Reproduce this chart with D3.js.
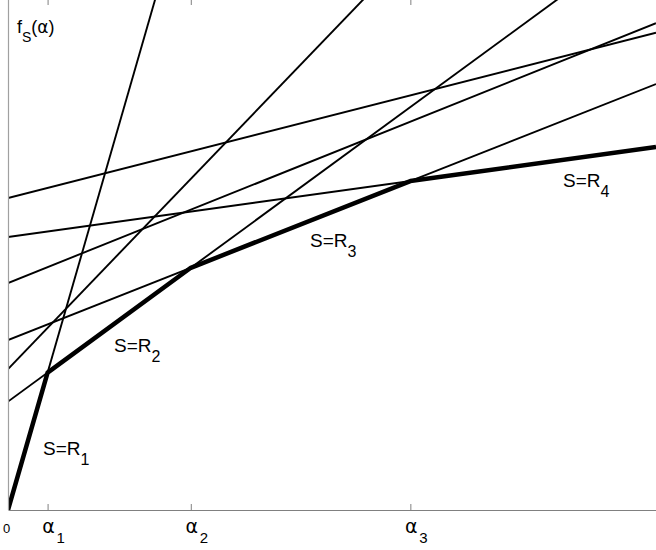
<!DOCTYPE html>
<html>
<head>
<meta charset="utf-8">
<script src="https://cdn.jsdelivr.net/npm/d3@7"></script>
<style>
  body { margin: 0; background: #fff; }
  text { font-family: "Liberation Sans", Arial, Helvetica, sans-serif; fill: #000; }
  .greek { font-family: "DejaVu Sans", sans-serif; }
</style>
</head>
<body>
<svg id="chart"></svg>
<script>
// each line f = intercept + slope * alpha
const intercepts = [0, 2.71, 4.25, 6.825, 7.8, 5.675, 3.525];
const slopes = [3.47, 0.732, 0.395, 0.139, 0.255, 0.401, 1.04];
// lines that make up the lower envelope, in order (R1..R4)
const envelope = [0, 1, 2, 3];
const regionNames = ["1", "2", "3", "4"];
const xMax = 16.2;
const yMax = 12.75;

// label anchors in data units
const labelPos = [[0.875, 1.375], [2.65, 3.95], [7.55, 6.575], [13.875, 8.075]];

const width = 656, height = 550;
const margin = {top: 0, right: 0, bottom: 40, left: 8};

const svg = d3.select("#chart").attr("width", width).attr("height", height);

const x = d3.scaleLinear().domain([0, xMax]).range([margin.left, width - margin.right]);
const y = d3.scaleLinear().domain([0, yMax]).range([height - margin.bottom, margin.top]);

const f = (i, a) => intercepts[i] + slopes[i] * a;

// breakpoints alpha_k where consecutive envelope lines cross
const alphas = d3.range(1, envelope.length).map(k => {
    const i = envelope[k - 1], j = envelope[k];
    return (intercepts[j] - intercepts[i]) / (slopes[i] - slopes[j]);
});

svg.append("clipPath").attr("id", "plot")
  .append("rect")
    .attr("x", x(0)).attr("y", -10)
    .attr("width", x(xMax) - x(0)).attr("height", y(0) + 10);

const plot = svg.append("g").attr("clip-path", "url(#plot)");

plot.append("g")
    .attr("stroke", "#000")
    .attr("stroke-width", 1.9)
    .attr("fill", "none")
  .selectAll("line")
    .data(intercepts)
  .enter().append("line")
    .attr("x1", x(0)).attr("y1", (d, i) => y(f(i, 0)))
    .attr("x2", x(xMax)).attr("y2", (d, i) => y(f(i, xMax)));

const envPts = [[0, f(envelope[0], 0)]]
    .concat(alphas.map((a, k) => [a, f(envelope[k], a)]))
    .concat([[xMax, f(envelope[envelope.length - 1], xMax)]]);

plot.append("path")
    .datum(envPts)
    .attr("fill", "none")
    .attr("stroke", "#000")
    .attr("stroke-width", 4.5)
    .attr("stroke-linejoin", "round")
    .attr("d", d3.line().x(d => x(d[0])).y(d => y(d[1])));

// axes
const ticks = [0].concat(alphas);
const xAxis = svg.append("g")
    .attr("transform", `translate(0,${y(0)})`)
    .call(d3.axisBottom(x).tickValues(ticks).tickSize(-6).tickSizeOuter(0).tickFormat(""));
xAxis.selectAll("path,line").attr("stroke", "#808080");

const topAxis = svg.append("g")
    .attr("transform", `translate(0,${y(yMax)})`)
    .call(d3.axisTop(x).tickValues(alphas).tickSize(-5).tickFormat(""));
topAxis.select(".domain").remove();
topAxis.selectAll("line").attr("stroke", "#808080");

svg.append("line")
    .attr("x1", x(0) + 0.5).attr("x2", x(0) + 0.5)
    .attr("y1", y(yMax)).attr("y2", y(0))
    .attr("stroke", "#a0a0a0").attr("stroke-width", 1.2);

// tick labels
svg.append("text")
    .attr("x", x(0) - 1.5).attr("y", y(0) + 23)
    .attr("text-anchor", "middle")
    .style("font-size", "13px")
    .text("0");

const alphaLab = svg.append("g").selectAll("g")
    .data(alphas)
  .enter().append("g")
    .attr("transform", d => `translate(${x(d) + 1},${y(0) + 23})`);
alphaLab.append("text")
    .attr("class", "greek")
    .attr("text-anchor", "middle")
    .style("font-size", "19px")
    .text("α");
alphaLab.append("text")
    .attr("x", 8).attr("y", 10)
    .style("font-size", "15px")
    .text((d, i) => i + 1);

// y label
const yl = svg.append("text")
    .attr("x", 17).attr("y", 33)
    .style("font-size", "18px");
yl.append("tspan").text("f");
yl.append("tspan").attr("dy", 9).style("font-size", "14px").text("S");
yl.append("tspan").attr("dy", -9).text("(");
yl.append("tspan").attr("class", "greek").style("font-size", "17px").text("α");
yl.append("tspan").text(")");

// region labels
const reg = svg.append("g").selectAll("text")
    .data(labelPos)
  .enter().append("text")
    .attr("x", d => x(d[0]))
    .attr("y", d => y(d[1]))
    .style("font-size", "19px");
reg.append("tspan").text("S=R");
reg.append("tspan")
    .attr("dy", 10)
    .style("font-size", "16px")
    .text((d, i) => regionNames[i]);
</script>
</body>
</html>
